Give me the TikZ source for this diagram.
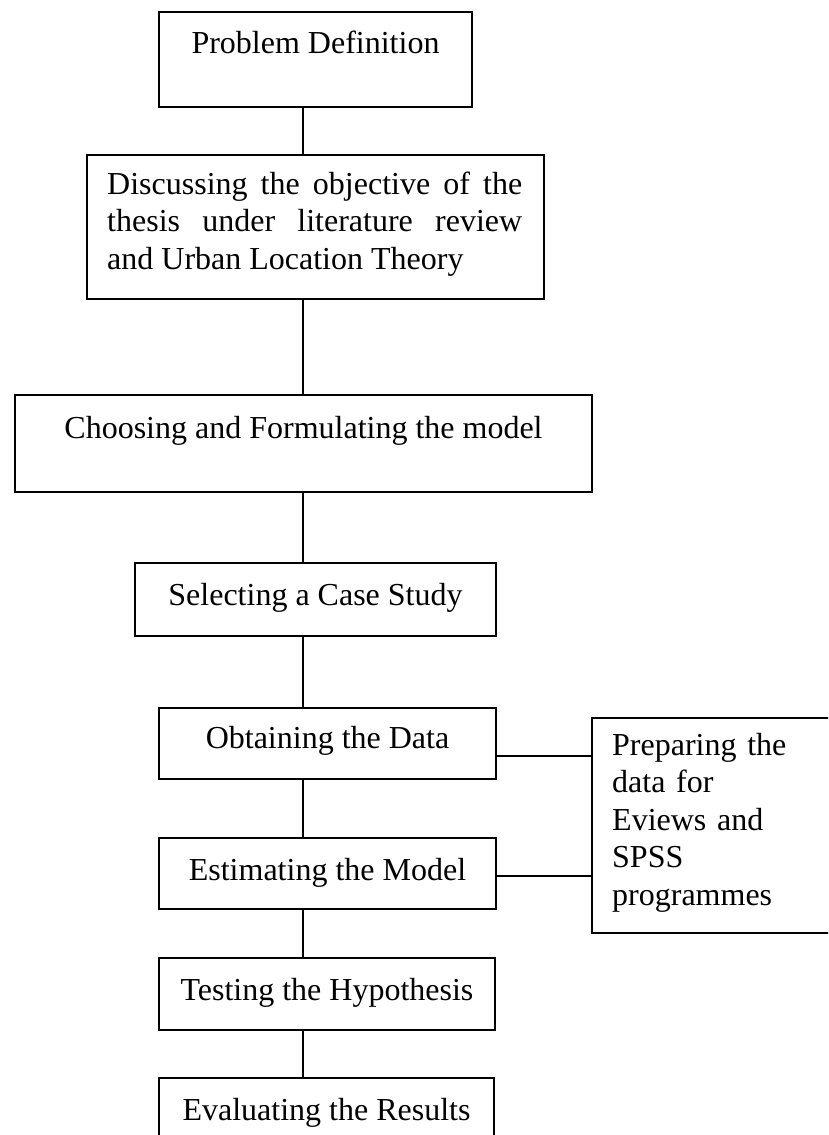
\documentclass[tikz,border=0pt]{standalone}
\usepackage{fontspec}
\setmainfont{Liberation Serif}
\tikzset{
  box/.style={draw, line width=1.5pt, inner sep=0pt, rectangle},
  lbl/.style={inner sep=0pt, font=\fontsize{32}{37.5}\selectfont},
  link/.style={line width=1.5pt}
}
\begin{document}
\begin{tikzpicture}[x=1pt,y=-1pt]
\clip (0,0) rectangle (828,1135);
\fill[white] (0,0) rectangle (828,1135);
% boxes
\node[box, minimum width=313pt, minimum height=95pt]  (b1) at (315.5,59.5) {};
\node[box, minimum width=457pt, minimum height=144pt] (b2) at (315.5,227) {};
\node[box, minimum width=577pt, minimum height=97pt]  (b3) at (303.5,443.5) {};
\node[box, minimum width=361pt, minimum height=73pt]  (b4) at (315.5,599.5) {};
\node[box, minimum width=337pt, minimum height=71pt]  (b5) at (327.5,743.5) {};
\node[box, minimum width=337pt, minimum height=71pt]  (b6) at (327.5,873.5) {};
\node[box, minimum width=336pt, minimum height=72pt]  (b7) at (327,994) {};
\node[box, minimum width=335pt, minimum height=80pt]  (b8) at (326.5,1118) {};
\node[box, minimum width=250pt, minimum height=215pt] (side) at (717,825.5) {};
% texts
\node[lbl, anchor=base] (t1) at (315.5,53) {Problem Definition};
\node[lbl, anchor=base west, text width=415pt, align=justify] (t2) at (107,194)
  {Discussing the objective of the\linebreak thesis under literature review\linebreak and Urban Location Theory};
\node[lbl, anchor=base] (t3) at (303.5,438) {Choosing and Formulating the model};
\node[lbl, anchor=base] (t4) at (315.5,605) {Selecting a Case Study};
\node[lbl, anchor=base] (t5) at (327.5,748) {Obtaining the Data};
\node[lbl, anchor=base] (t6) at (327.5,880) {Estimating the Model};
\node[lbl, anchor=base] (t7) at (327,1000) {Testing the Hypothesis};
\node[lbl, anchor=base] (t8) at (326.5,1120) {Evaluating the Results};
\node[lbl, anchor=base west, text width=220pt, align=left] (ts) at (612,755)
  {Preparing the\\data for\\Eviews and\\SPSS\\programmes};
% connectors
\coordinate (spine) at (303,0);
\draw[link] (b1.south -| spine) -- (b2.north -| spine);
\draw[link] (b2.south -| spine) -- (b3.north -| spine);
\draw[link] (b3.south -| spine) -- (b4.north -| spine);
\draw[link] (b4.south -| spine) -- (b5.north -| spine);
\draw[link] (b5.south -| spine) -- (b6.north -| spine);
\draw[link] (b6.south -| spine) -- (b7.north -| spine);
\draw[link] (b7.south -| spine) -- (b8.north -| spine);
\coordinate (j1) at (592,756);
\coordinate (j2) at (592,876);
\draw[link] (b5.east |- j1) -- (j1);
\draw[link] (b6.east |- j2) -- (j2);
\end{tikzpicture}
\end{document}
